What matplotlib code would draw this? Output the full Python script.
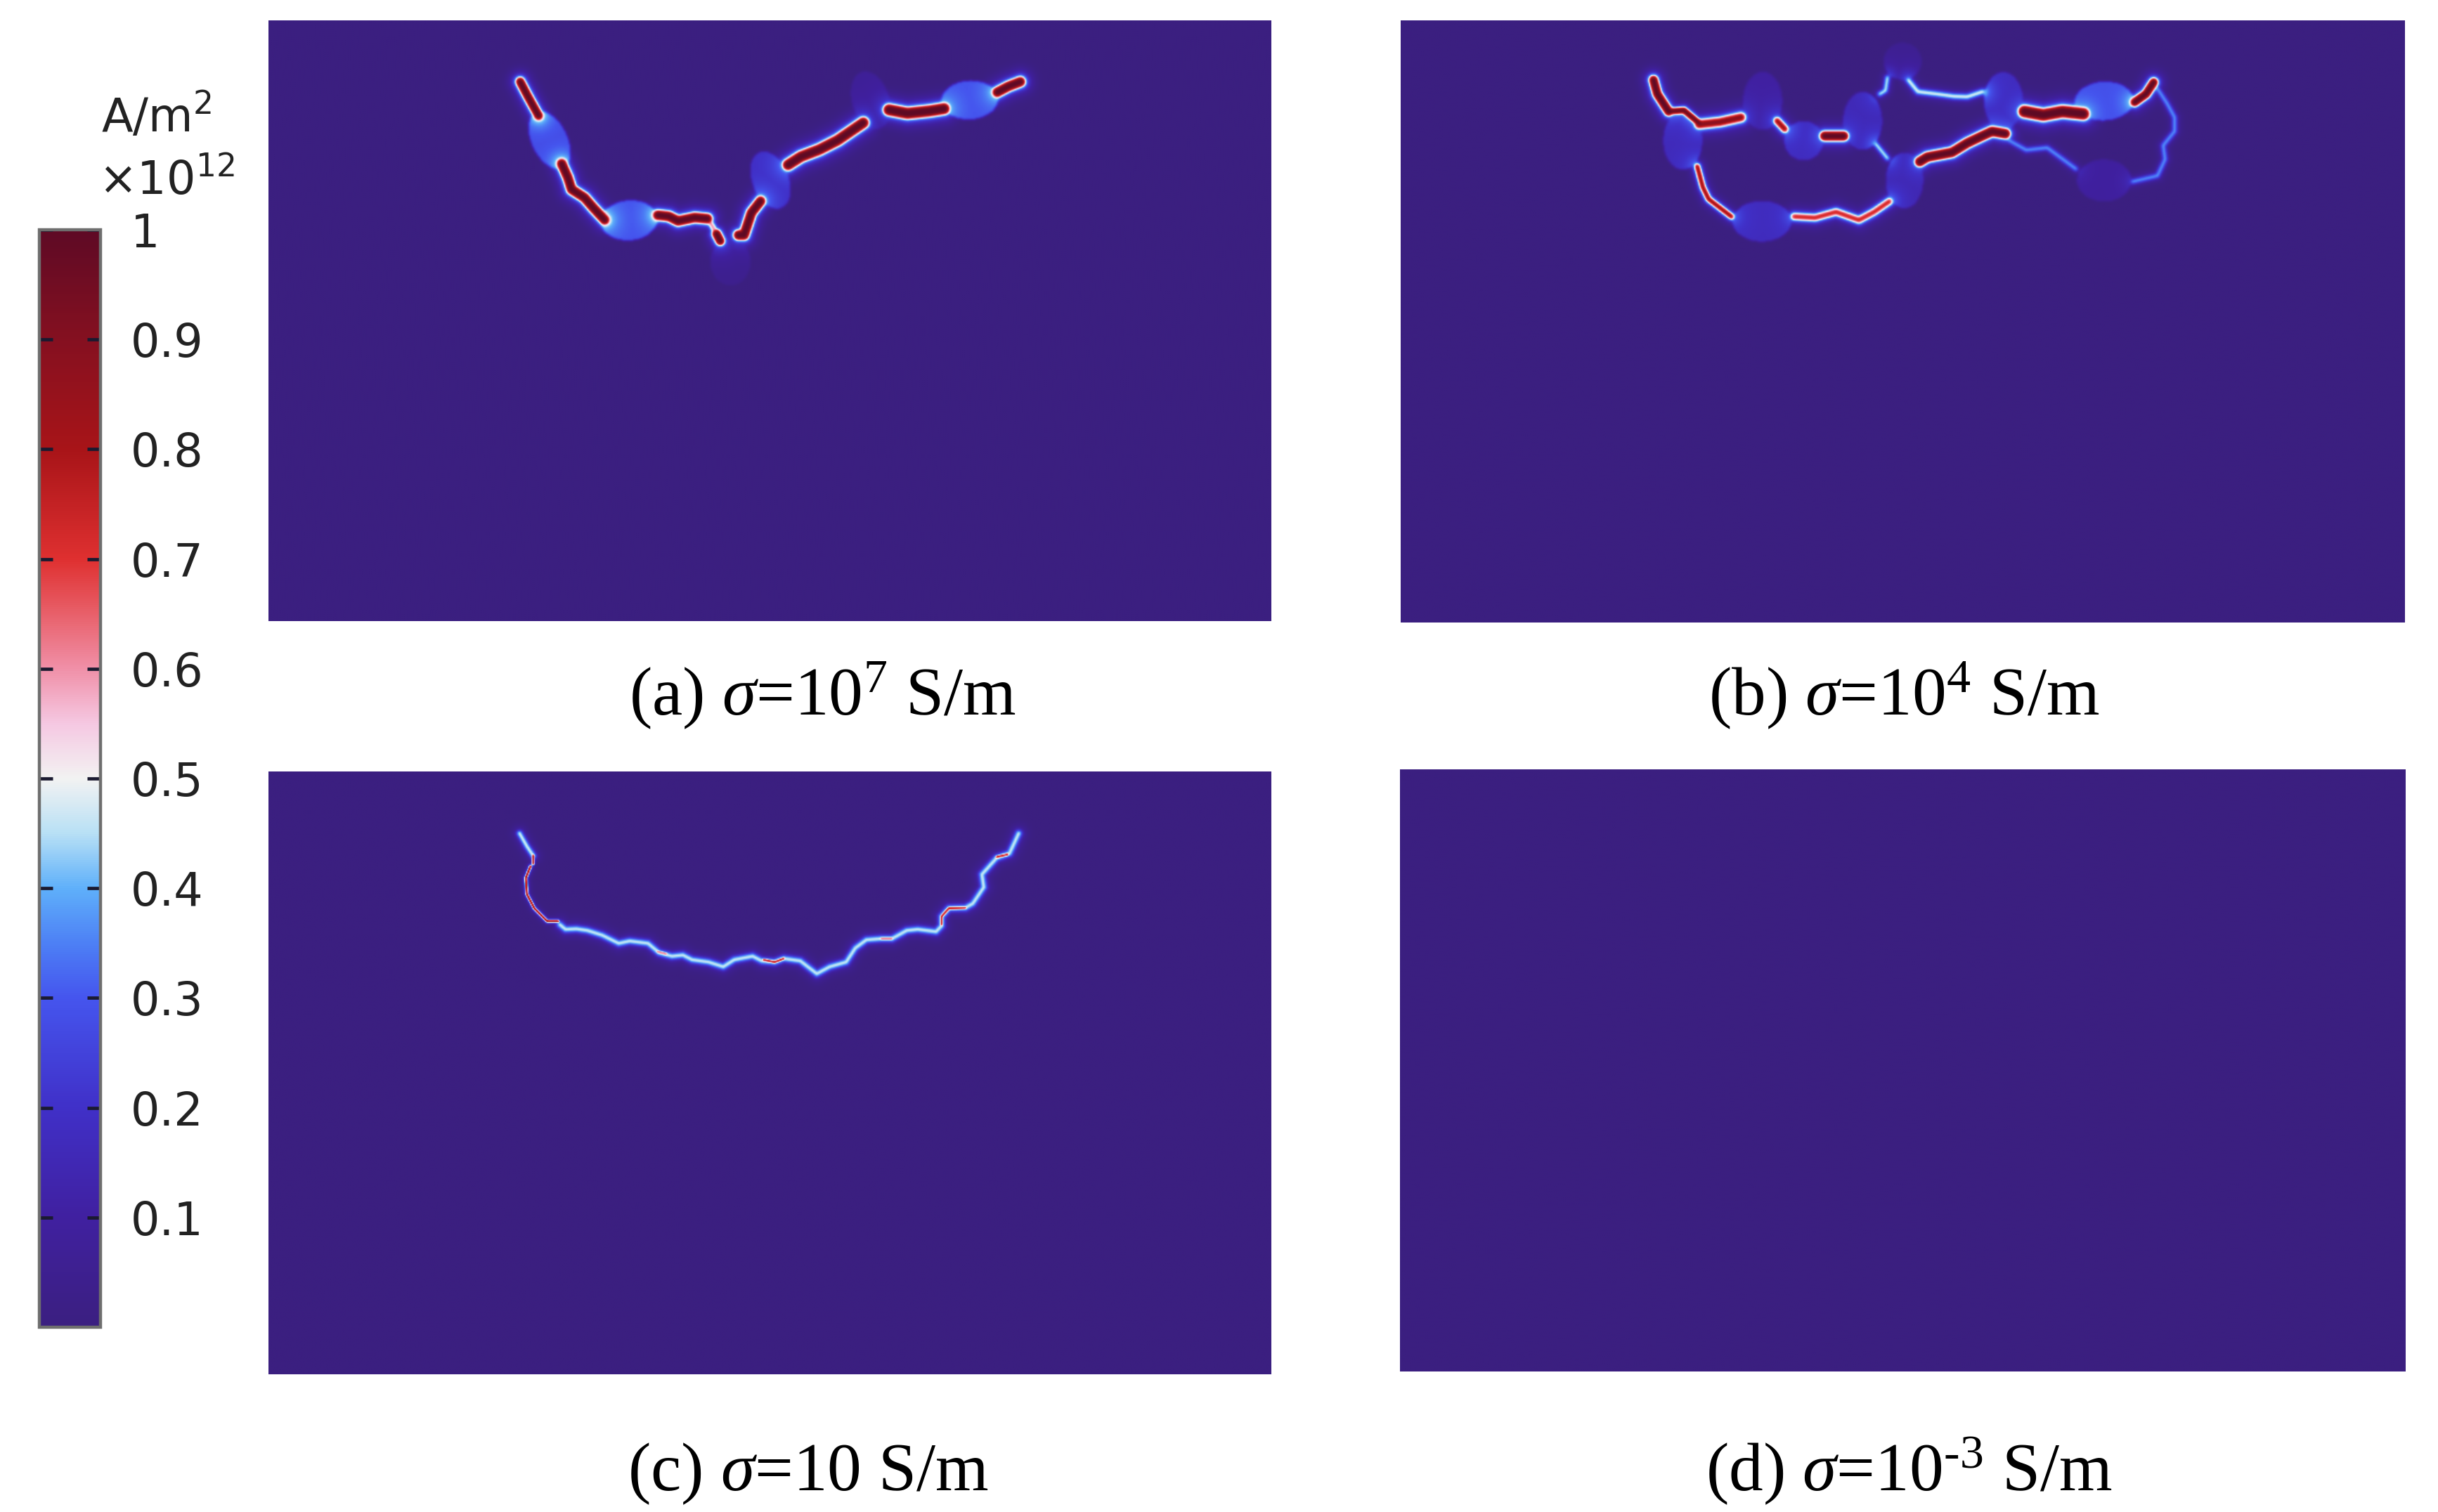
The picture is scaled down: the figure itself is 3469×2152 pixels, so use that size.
import numpy as np
import matplotlib
matplotlib.use("Agg")
import matplotlib.pyplot as plt
from matplotlib.colors import LinearSegmentedColormap, Normalize

W, H = 3469, 2152
plt.rcParams['mathtext.fontset'] = 'custom'
plt.rcParams['mathtext.rm'] = 'Liberation Serif'
plt.rcParams['mathtext.it'] = 'Liberation Serif:italic'
plt.rcParams['font.family'] = ['DejaVu Sans']

# colour scale
cbar_vals = [0, .1, .2, .3, .35, .4, .45, .5, .55, .6, .65, .7, .8, .9, 1]
cbar_cols = ['#3b1f80', '#4020a0', '#4030c8', '#4555ee', '#4d80f5', '#5fb0fa', '#b8e0f5', '#f2f2f2',
             '#f5c8e2', '#f090a8', '#e8606a', '#df3030', '#a81418', '#851020', '#5e0a25']
cbar_ticks = [.1, .2, .3, .4, .5, .6, .7, .8, .9, 1]
cbar_labels = ['0.1', '0.2', '0.3', '0.4', '0.5', '0.6', '0.7', '0.8', '0.9', '1']

captions = ['(a) $\\sigma$=10$^{7}$ S/m', '(b) $\\sigma$=10$^{4}$ S/m',
            '(c) $\\sigma$=10 S/m', '(d) $\\sigma$=10$^{\u20103}$ S/m']

# crack paths: (amplitude, width, vertices)
cracks_a = [
    (1.0, 8, [(115,170),(135,230),(165,315)]),
    (1.0, 9, [(228,520),(245,580),(255,630),(290,665),(315,710),(345,760)]),
    (1.0, 9, [(490,740),(520,745),(545,765),(590,750),(625,755)]),
    (.5, 7, [(625,755),(640,790),(655,845)]),
    (1.0, 8, [(650,820),(660,850)]),
    (1.0, 9, [(710,825),(725,825),(745,730),(770,680)]),
    (1.0, 10, [(845,525),(880,490),(930,460),(980,420),(1050,345)]),
    (1.05, 10, [(1120,290),(1170,305),(1230,295),(1270,285)]),
    (1.0, 9, [(1415,215),(1445,190),(1478,170)]),
]
ellipses_a = [  # cx, cy, rx, ry, tilt, base level, contact level
    (195,420,52,128,13,.27,.3), (412,762,78,88,-15,.29,.3), (688,940,55,100,0,.04,.42),
    (797,590,52,125,10,.19,.35), (1070,250,52,125,8,.07,.42), (1340,248,78,85,-15,.29,.25),
]
cracks_b = [
    (1.0, 8, [(95,190),(105,250),(135,325)]),
    (.9, 6, [(135,325),(175,320),(215,375)]),
    (.72, 10, [(215,380),(270,370),(325,350)]),
    (.68, 8, [(420,365),(440,400)]),
    (.95, 9, [(545,430),(595,430)]),
    (.4, 5, [(680,465),(710,525)]),
    (.4, 5, [(710,180),(705,235),(690,250)]),
    (.41, 6, [(765,190),(790,240),(840,250),(885,260),(920,262),(960,240)]),
    (1.0, 11, [(1070,325),(1120,340),(1170,325),(1225,335)]),
    (.95, 8, [(1360,285),(1390,250),(1410,200)]),
    (1.0, 9, [(795,540),(815,520),(880,500),(920,460),(965,425),(985,410),(1020,420)]),
    (.32, 5, [(1020,440),(1075,490),(1130,480),(1205,570)]),
    (.32, 5, [(1415,215),(1445,290),(1465,350),(1465,410),(1435,470),(1440,530),(1420,600),(1355,625)]),
    (.7, 6, [(210,560),(225,650),(240,700),(300,775)]),
    (.6, 8, [(465,775),(520,780),(575,755),(635,790),(675,755),(715,710)]),
]
ellipses_b = [
    (172,450,52,125,0,.16,.25), (382,280,52,125,0,.1,.28), (490,450,52,85,0,.17,.25),
    (645,365,52,125,0,.15,.25), (750,110,50,80,0,.05,.28), (1015,280,52,125,0,.17,.3),
    (755,620,50,120,0,.14,.28), (1280,280,78,85,-12,.28,.25), (380,795,78,88,0,.17,.2),
    (1280,620,72,90,0,.09,.1),
]
cracks_c = [
    (.38, 6, [(75,110),(95,165),(112,205)]),
    (1.0, 2, [(112,205),(112,240)]),
    (1.0, 2, [(105,250),(92,300),(95,370),(115,430),(150,485),(180,485)]),
    (.32, 4, [(105,250),(92,300),(95,370),(115,430),(150,485),(180,485)]),
    (.37, 7, [(185,500),(200,520),(230,518),(260,525),(300,545),(345,580),(375,570),(425,580),(455,620),
              (490,635),(520,630),(545,650),(590,660),(630,680),(660,650),(710,635),(735,655),
              (770,660),(795,645),(840,655),(885,710),(920,680),(965,660),(990,600),(1020,565),
              (1060,560),(1090,560),(1130,525),(1160,520),(1210,530),(1225,505),(1225,465),
              (1245,430),(1290,428),(1310,410),(1340,340),(1335,285),(1375,215),(1410,195),(1435,110)]),
    (.9, 2, [(1225,500),(1225,465),(1245,430),(1290,428)]),
    (.9, 2, [(740,650),(770,660),(795,645)]),
    (.9, 2, [(1375,210),(1405,200)]),
    (.75, 2, [(1060,560),(1090,560)]),
    (.75, 2, [(450,615),(475,625)]),
]
# reading scale of each set of vertices: x offset, y offset, x divisor, y divisor
frame_a = (298, 31, 1.912, 3)
frame_b = (308, 21, 1.845, 3)
frame_c = (318, 51, 1.912, 3)

STEP = 1.5


def seg_dist(X, Y, pts):
    d2 = np.full(X.shape, np.inf)
    for (x0, y0), (x1, y1) in zip(pts[:-1], pts[1:]):
        dx, dy = x1 - x0, y1 - y0
        t = np.clip(((X - x0) * dx + (Y - y0) * dy) / max(dx * dx + dy * dy, 1e-9), 0, 1)
        d2 = np.minimum(d2, (X - x0 - t * dx) ** 2 + (Y - y0 - t * dy) ** 2)
    return np.sqrt(d2)


def blur(F, sigma):
    r = int(3 * sigma) + 1
    k = np.exp(-(np.arange(-r, r + 1) * STEP / sigma) ** 2 / 2)
    k /= k.sum()
    F = np.apply_along_axis(lambda a: np.convolve(np.pad(a, r, mode='edge'), k, 'valid'), 0, F)
    F = np.apply_along_axis(lambda a: np.convolve(np.pad(a, r, mode='edge'), k, 'valid'), 1, F)
    return F


def field(w, h, cracks, ellipses, frame, sigma):
    ox, oy, sx, sy = frame
    xs = np.arange(0, w + STEP, STEP)
    ys = np.arange(0, h + STEP, STEP)
    X, Y = np.meshgrid(xs, ys)
    F = np.zeros(X.shape)
    dmin = np.full(X.shape, np.inf)
    for amp, wid, verts in cracks:
        pts = [(vx / sx + ox, vy / sy + oy) for vx, vy in verts]
        d = seg_dist(X, Y, pts)
        if wid > 2.5:
            dmin = np.minimum(dmin, d)
            val = amp * np.exp(-(d / (.75 * wid)) ** 2) + .28 * amp * np.exp(-(d / (1.8 * wid)) ** 2)
        else:
            val = amp * np.exp(-(d / wid) ** 2)
        F = np.maximum(F, val)
    ZX, ZY = (X - ox) * sx, (Y - oy) * sy
    for cx, cy, rx, ry, tilt, base, contact in ellipses:
        t = np.radians(tilt)
        dx, dy = ZX - cx, ZY - cy
        u = dx * np.sin(t) + dy * np.cos(t)
        v = dx * np.cos(t) - dy * np.sin(t)
        inside = (u / ry) ** 2 + (v / rx) ** 2 < 1
        val = base + contact * np.exp(-dmin / 7.0) + .4 * contact * np.exp(-dmin / 18.0)
        F = np.where(inside, np.maximum(F, val), F)
    F = np.clip(F, 0, 1)
    return blur(F, sigma) if sigma > 0 else F


cmap = LinearSegmentedColormap.from_list('jcurrent', list(zip(cbar_vals, cbar_cols)), N=512)
norm = Normalize(0, 1)
fig = plt.figure(figsize=(W / 100, H / 100), dpi=100, facecolor='white')


def px_axes(x0, y0, x1, y1):
    return fig.add_axes([x0 / W, 1 - y1 / H, (x1 - x0) / W, (y1 - y0) / H])


panels = [
    ((382, 29, 1809, 884), cracks_a, ellipses_a, frame_a, 1.8),
    ((1993, 29, 3422, 886), cracks_b, ellipses_b, frame_b, 1.8),
    ((382, 1098, 1809, 1956), cracks_c, [], frame_c, 1.0),
    ((1992, 1095, 3422, 1952), [], [], (0, 0, 1, 1), 0),
]
im = None
for (x0, y0, x1, y1), cr, el, fr, sg in panels:
    ax = px_axes(x0, y0, x1, y1)
    F = field(x1 - x0, y1 - y0, cr, el, fr, sg)
    im = ax.imshow(F, cmap=cmap, norm=norm, extent=(0, x1 - x0, y1 - y0, 0),
                   interpolation='bilinear', aspect='auto')
    ax.set_xlim(0, x1 - x0)
    ax.set_ylim(y1 - y0, 0)
    ax.axis('off')

cax = px_axes(56, 327, 143, 1889)
cb = fig.colorbar(im, cax=cax)
cb.set_ticks(cbar_ticks, labels=cbar_labels)
cb.ax.tick_params(axis='y', which='major', direction='in', left=True, right=True, length=14, width=3.4,
                  color='#1a1a30', pad=31, labelsize=47, labelcolor='#222222')
cb.ax.minorticks_off()
cb.outline.set_edgecolor('#6e6e6e')
cb.outline.set_linewidth(3.2)


def px_text(x, y, s, **kw):
    fig.text(x / W, 1 - y / H, s, va='baseline', ha='left', **kw)


px_text(144, 188, r'A/m$^{2}$', fontsize=47, color='#222222', math_fontfamily='dejavusans')
px_text(140, 277, r'$\times$10$^{12}$', fontsize=47, color='#222222', math_fontfamily='dejavusans')

cap_pos = [(895, 1017), (2431, 1017), (893, 2121), (2427, 2121)]
for (x, y), s in zip(cap_pos, captions):
    px_text(x, y, s, fontsize=70, family='Liberation Serif', color='black')

fig.savefig('out.png', dpi=100, facecolor='white')
